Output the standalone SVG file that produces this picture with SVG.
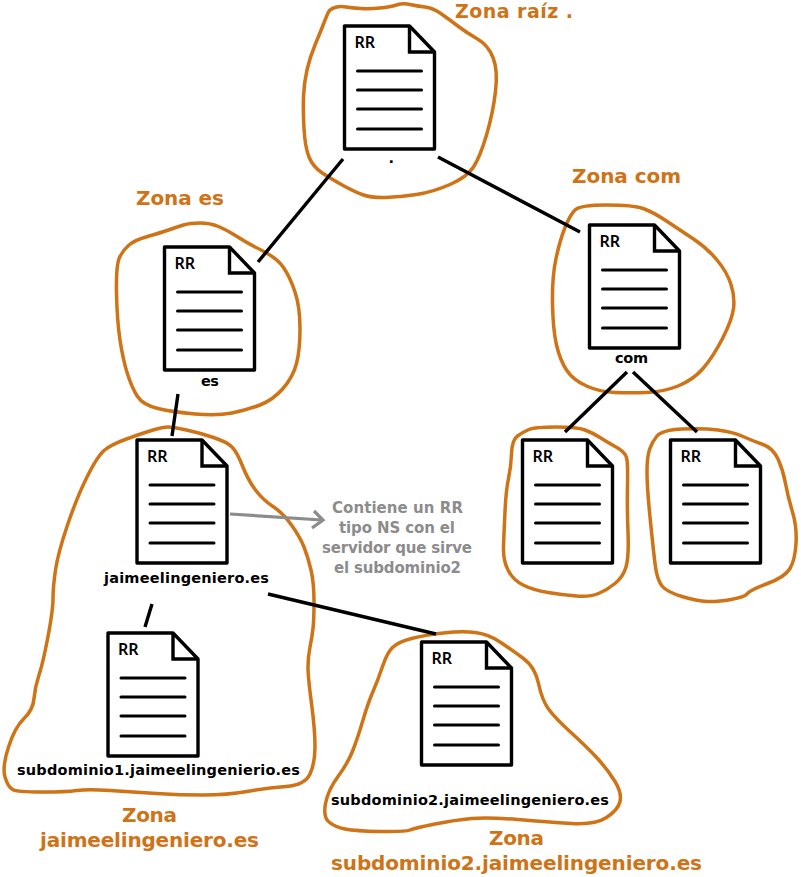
<svg xmlns="http://www.w3.org/2000/svg" width="801" height="877" viewBox="0 0 801 877">
<style>
.blob{fill:none;stroke:#cf7317;stroke-width:3.5;stroke-linejoin:round}
.sheet{fill:#fff;stroke:#000;stroke-width:3.4;stroke-linejoin:round}
.fold{fill:none;stroke:#000;stroke-width:3.4}
.ln{stroke:#000;stroke-width:3;stroke-linecap:round;fill:none}
.rr{font:600 16px "Noto Sans",sans-serif;fill:#000}
.lbl{font:bold 14.5px "DejaVu Sans",sans-serif;fill:#000}
.zona{font:bold 20px "DejaVu Sans",sans-serif;fill:#cf7317}
.note{font:bold 15px "DejaVu Sans",sans-serif;fill:#8c8c8c}
.conn{stroke:#000;stroke-width:3.4;fill:none}
.gray{stroke:#8c8c8c;stroke-width:3.2;fill:none}
</style>
<defs>
<g id="doc">
<path class="sheet" d="M0 0H65L90 26V123H0Z"/>
<path class="fold" d="M65 0V26H90"/>
<path class="ln" d="M13 45H77M13 64H77M13 83H77M13 103H77"/>
<text class="rr" x="10" y="22">RR</text>
</g>
</defs>
<g id="node-root">
<path class="blob" d="M410 4.5Q403 3 396.5 5Q390 7 380 8Q370 9 361 8.5Q352 8 346 7Q340 6 335 7.5Q330 9 328.5 12Q327 15 323.5 24Q320 33 315 45Q310 57 307 70Q304 83 303.5 96.5Q303 110 304 128.5Q305 147 309 157Q313 167 323 173.5Q333 180 344 186Q355 192 363.5 195Q372 198 386 197.5Q400 197 416.5 194.5Q433 192 450 184.5Q467 177 473.5 167Q480 157 486.5 135Q493 113 495.5 91.5Q498 70 493 57.5Q488 45 477.5 39Q467 33 458.5 26.5Q450 20 441.5 14Q433 8 425 7Q417 6 410 4.5Z"/>
<use href="#doc" x="344.5" y="26"/>
<text class="lbl" x="388.5" y="163">.</text>
<text class="zona" x="455" y="17.8" textLength="118" style="font-size:19px">Zona raíz .</text>
</g>
<g id="node-es">
<path class="blob" d="M183.5 225Q190 223 200 223Q210 223 218.5 226.5Q227 230 237 236.5Q247 243 262 250.5Q277 258 283.5 267.5Q290 277 295 292Q300 307 300 328.5Q300 350 296.5 363.5Q293 377 283 388.5Q273 400 260 405Q247 410 232 413Q217 416 195 414Q173 412 158 408.5Q143 405 137.5 396.5Q132 388 127.5 374Q123 360 120 340Q117 320 116.5 292.5Q116 265 119.5 257.5Q123 250 129 245Q135 240 147.5 236.5Q160 233 168.5 230Q177 227 183.5 225Z"/>
<use href="#doc" x="164.5" y="247"/>
<text class="lbl" x="201" y="386" textLength="18">es</text>
<text class="zona" x="136" y="205" textLength="88">Zona es</text>
</g>
<g id="node-com">
<path class="blob" d="M575 210Q580 205 606.5 205Q633 205 643 208.5Q653 212 666.5 221Q680 230 693.5 239Q707 248 717 260Q727 272 731 284.5Q735 297 733.5 308.5Q732 320 722.5 338.5Q713 357 703 368.5Q693 380 678 386Q663 392 646.5 392.5Q630 393 615 392.5Q600 392 586.5 386Q573 380 566.5 370Q560 360 556.5 345Q553 330 552.5 303.5Q552 277 556 258.5Q560 240 565 227.5Q570 215 575 210Z"/>
<use href="#doc" x="589.5" y="225"/>
<text class="lbl" x="615" y="363" textLength="33">com</text>
<text class="zona" x="572" y="183" textLength="109">Zona com</text>
</g>
<g id="node-c1">
<path class="blob" d="M529 429.5Q535 427 556 427Q577 427 585 430Q593 433 600 437.5Q607 442 616 447Q625 452 626.5 457.5Q628 463 627.5 485Q627 507 628 532Q629 557 626 567Q623 577 615 583.5Q607 590 598.5 593.5Q590 597 576.5 596Q563 595 548 592.5Q533 590 523 585Q513 580 508 570Q503 560 503.5 546.5Q504 533 505 511.5Q506 490 508.5 478.5Q511 467 511.5 453.5Q512 440 517.5 436Q523 432 529 429.5Z"/>
<use href="#doc" x="522.5" y="440"/>
</g>
<g id="node-c2">
<path class="blob" d="M657 436Q662 430 682.5 429Q703 428 718 430Q733 432 743 436.5Q753 441 763 444.5Q773 448 778 459Q783 470 785.5 483.5Q788 497 792.5 512Q797 527 796 543.5Q795 560 790 568.5Q785 577 767.5 583.5Q750 590 747.5 593.5Q745 597 731 599.5Q717 602 707 601.5Q697 601 682 596.5Q667 592 662 586Q657 580 655 563.5Q653 547 650 517Q647 487 647 472Q647 457 649.5 449.5Q652 442 657 436Z"/>
<use href="#doc" x="670.5" y="440"/>
</g>
<g id="node-jaime">
<path class="blob" d="M168 427Q173 427 186.5 430Q200 433 213.5 437.5Q227 442 232 447Q237 452 242.5 466Q248 480 255.5 490Q263 500 273 506.5Q283 513 291.5 525Q300 537 304 547Q308 557 311 570Q314 583 314 601.5Q314 620 313 628.5Q312 637 310 647Q308 657 308 667Q308 677 311.5 703.5Q315 730 315 746.5Q315 763 310 774Q305 785 286 786.5Q267 788 247 791.5Q227 795 203.5 795Q180 795 156.5 793.5Q133 792 110 790.5Q87 789 77 790.5Q67 792 42 792Q17 792 12.5 789.5Q8 787 5 777Q2 767 8.5 747Q15 727 24 718.5Q33 710 34 698.5Q35 687 39 675Q43 663 48 636.5Q53 610 53 598.5Q53 587 55.5 570Q58 553 67.5 525Q77 497 87 477Q97 457 103.5 451Q110 445 126.5 439Q143 433 153 430Q163 427 168 427Z"/>
<use href="#doc" x="137" y="440"/>
<text class="lbl" x="104" y="583" textLength="165">jaimeelingeniero.es</text>
<text class="zona" x="122" y="822" textLength="55">Zona</text>
<text class="zona" x="40" y="847" textLength="219">jaimeelingeniero.es</text>
</g>
<g id="node-sub1">
<use href="#doc" x="108" y="633"/>
<text class="lbl" x="17" y="775" textLength="283">subdominio1.jaimeelingenierio.es</text>
</g>
<g id="node-sub2">
<path class="blob" d="M443.5 633Q462 631 475 632.5Q488 634 500 642Q512 650 523.5 658.5Q535 667 538.5 683.5Q542 700 548.5 709Q555 718 571.5 733Q588 748 598 759Q608 770 615 781.5Q622 793 620 801.5Q618 810 606.5 817.5Q595 825 571.5 823.5Q548 822 518 819.5Q488 817 471.5 818.5Q455 820 435 824Q415 828 410 830Q405 832 380 831.5Q355 831 345 829Q335 827 329 822Q323 817 325.5 803.5Q328 790 338 776.5Q348 763 353 750Q358 737 363 720Q368 703 373 691.5Q378 680 382.5 666.5Q387 653 392.5 647.5Q398 642 411.5 638.5Q425 635 443.5 633Z"/>
<use href="#doc" x="421.5" y="642"/>
<text class="lbl" x="331" y="805" textLength="278">subdominio2.jaimeelingeniero.es</text>
<text class="zona" x="489" y="845" textLength="55">Zona</text>
<text class="zona" x="331" y="870" textLength="371">subdominio2.jaimeelingeniero.es</text>
</g>
<g id="note">
<text class="note" x="332" y="513" textLength="131">Contiene un RR</text>
<text class="note" x="339" y="533" textLength="116">tipo NS con el</text>
<text class="note" x="322" y="553" textLength="150">servidor que sirve</text>
<text class="note" x="334" y="573" textLength="127">el subdominio2</text>
</g>
<g id="connectors">
<path class="conn" d="M343 159L258 262"/>
<path class="conn" d="M438 157L580 232"/>
<path class="conn" d="M178 394L172 436"/>
<path class="conn" d="M627 372L565 432"/>
<path class="conn" d="M633 372L697 432"/>
<path class="conn" d="M152 604L145 627"/>
<path class="conn" d="M268 594L436 634"/>
<path class="gray" d="M230 514L322 520M314 511L323 520L312 528"/>
</g>
</svg>
